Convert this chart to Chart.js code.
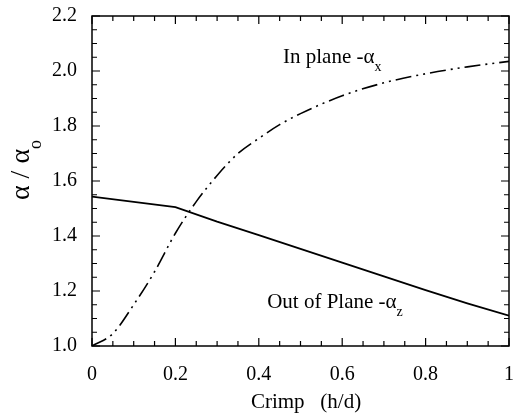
<!DOCTYPE html>
<html>
<head>
<meta charset="utf-8">
<script src="https://cdn.jsdelivr.net/npm/chart.js@4/dist/chart.umd.min.js"></script>
<style>
  html, body { margin: 0; padding: 0; background: #fff; }
  #wrap { width: 514px; height: 417px; }
</style>
</head>
<body>
<div id="wrap"><canvas id="crimpChart" width="514" height="417"></canvas></div>
<script>
// values
var crimpIn  = [0, 0.05, 0.1, 0.15, 0.2, 0.25, 0.3, 0.35, 0.4, 0.45, 0.5, 0.6, 0.7, 0.8, 0.9, 1.0];
var alphaIn  = [1.0, 1.045, 1.15, 1.27, 1.41, 1.525, 1.62, 1.70, 1.755, 1.805, 1.845, 1.91, 1.957, 1.99, 2.015, 2.035];
var crimpOut = [0, 0.2, 0.3, 0.4, 0.5, 0.6, 0.7, 0.8, 0.9, 1.0];
var alphaOut = [1.543, 1.505, 1.452, 1.403, 1.353, 1.303, 1.253, 1.203, 1.155, 1.11];

var xTickLabels = ['0', '0.2', '0.4', '0.6', '0.8', '1'];
var yTickLabels = ['1.0', '1.2', '1.4', '1.6', '1.8', '2.0', '2.2'];

var serif = '"Liberation Serif", "Times New Roman", serif';

function pts(xs, ys) {
  return xs.map(function (x, i) { return { x: x, y: ys[i] }; });
}

// frame, inward ticks on all four sides, titles and curve labels
var decor = {
  id: 'decor',
  afterDraw: function (chart) {
    var ctx = chart.ctx;
    var a = chart.chartArea;
    var xs = chart.scales.x, ys = chart.scales.y;
    ctx.save();
    ctx.strokeStyle = '#000';
    ctx.lineWidth = 1.5;
    ctx.strokeRect(a.left, a.top, a.right - a.left, a.bottom - a.top);

    ctx.lineWidth = 1.2;
    ctx.beginPath();
    for (var i = 0; i <= 20; i++) {
      var len = (i % 4 === 0) ? 8 : 5;
      var px = xs.getPixelForValue(i * 0.05);
      ctx.moveTo(px, a.bottom); ctx.lineTo(px, a.bottom - len);
      ctx.moveTo(px, a.top); ctx.lineTo(px, a.top + len);
    }
    for (var j = 0; j <= 24; j++) {
      var l2 = (j % 4 === 0) ? 8 : 5;
      var py = ys.getPixelForValue(1 + j * 0.05);
      ctx.moveTo(a.left, py); ctx.lineTo(a.left + l2, py);
      ctx.moveTo(a.right, py); ctx.lineTo(a.right - l2, py);
    }
    ctx.stroke();

    ctx.fillStyle = '#000';
    ctx.textBaseline = 'alphabetic';

    // x title
    ctx.font = '21px ' + serif;
    ctx.textAlign = 'center';
    ctx.fillText('Crimp   (h/d)', 306, 408);

    // y title, rotated, with subscript
    ctx.save();
    ctx.translate(29, 170);
    ctx.rotate(-Math.PI / 2);
    ctx.font = '28px ' + serif;
    var main = '\u03b1 / \u03b1';
    var wMain = ctx.measureText(main).width;
    ctx.font = '18px ' + serif;
    var wSub = ctx.measureText('o').width;
    var start = -(wMain + wSub) / 2;
    ctx.textAlign = 'left';
    ctx.font = '28px ' + serif;
    ctx.fillText(main, start, 0);
    ctx.font = '18px ' + serif;
    ctx.fillText('o', start + wMain, 12);
    ctx.restore();

    // curve labels
    ctx.textAlign = 'left';
    ctx.font = '21px ' + serif;
    var t1 = 'In plane -\u03b1';
    var x1 = xs.getPixelForValue(0.458), y1 = ys.getPixelForValue(2.03);
    ctx.fillText(t1, x1, y1);
    var w1 = ctx.measureText(t1).width;
    ctx.font = '14px ' + serif;
    ctx.fillText('x', x1 + w1, y1 + 8);

    ctx.font = '21px ' + serif;
    var t2 = 'Out of Plane -\u03b1';
    var x2 = xs.getPixelForValue(0.42), y2 = ys.getPixelForValue(1.138);
    ctx.fillText(t2, x2, y2);
    var w2 = ctx.measureText(t2).width;
    ctx.font = '14px ' + serif;
    ctx.fillText('z', x2 + w2, y2 + 8);
    ctx.restore();
  }
};

var ctx = document.getElementById('crimpChart').getContext('2d');
var crimpChart = new Chart(ctx, {
  type: 'line',
  data: {
    datasets: [{
      label: 'In plane',
      data: pts(crimpIn, alphaIn),
      borderColor: '#000',
      borderWidth: 1.6,
      borderDash: [16, 5, 2, 5, 2, 5],
      pointRadius: 0,
      cubicInterpolationMode: 'monotone',
      fill: false
    }, {
      label: 'Out of Plane',
      data: pts(crimpOut, alphaOut),
      borderColor: '#000',
      borderWidth: 1.8,
      pointRadius: 0,
      tension: 0,
      fill: false
    }]
  },
  options: {
    responsive: false,
    animation: false,
    layout: { padding: { top: 16, right: 5, left: 0, bottom: 0 } },
    plugins: { legend: { display: false }, tooltip: { enabled: false } },
    scales: {
      x: {
        type: 'linear',
        min: 0, max: 1,
        border: { display: false },
        grid: { display: false },
        afterFit: function (s) { s.height = 71; s.paddingLeft = 0; s.paddingRight = 0; },
        afterBuildTicks: function (s) {
          s.ticks = xTickLabels.map(function (t) { return { value: parseFloat(t) }; });
        },
        ticks: {
          color: '#000',
          padding: 9,
          maxRotation: 0,
          font: { family: serif, size: 20 },
          callback: function (v, i) { return xTickLabels[i]; }
        }
      },
      y: {
        type: 'linear',
        min: 1.0, max: 2.2,
        border: { display: false },
        grid: { display: false },
        afterFit: function (s) { s.width = 92; s.paddingTop = 0; s.paddingBottom = 0; },
        afterBuildTicks: function (s) {
          s.ticks = yTickLabels.map(function (t) { return { value: parseFloat(t) }; });
        },
        ticks: {
          color: '#000',
          padding: 7,
          font: { family: serif, size: 20 },
          callback: function (v, i) { return yTickLabels[i]; }
        }
      }
    }
  },
  plugins: [decor]
});
</script>
</body>
</html>
